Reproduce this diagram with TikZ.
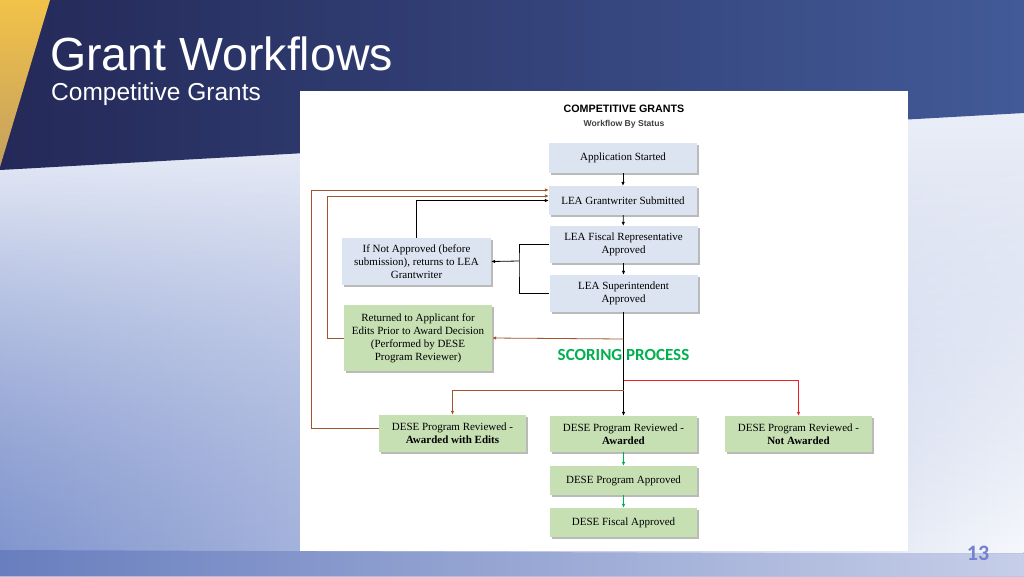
\documentclass[tikz,border=0pt]{standalone}
\usepackage{fontspec}
\setmainfont{Liberation Serif}
\newfontfamily\arialfont{Liberation Sans}
\newfontfamily\calibrifont{Carlito}
\usepackage{tikz}
\usetikzlibrary{arrows.meta,shadows,calc,fadings}

\definecolor{navyL}{RGB}{36,41,88}
\definecolor{navyR}{RGB}{66,90,152}
\definecolor{goldT}{RGB}{242,194,72}
\definecolor{goldB}{RGB}{196,160,96}
\definecolor{bgtop}{RGB}{246,248,252}
\definecolor{bgbot}{RGB}{184,196,228}
\definecolor{bgleft}{RGB}{130,150,206}
\definecolor{stripL}{RGB}{104,126,190}
\definecolor{stripR}{RGB}{198,206,232}
\definecolor{boxblue}{RGB}{220,227,241}
\definecolor{boxgreen}{RGB}{198,224,180}
\definecolor{flowbrown}{RGB}{160,86,42}
\definecolor{flowred}{RGB}{238,30,36}
\definecolor{flowgreen}{RGB}{0,176,80}
\definecolor{pagenum}{RGB}{118,128,208}

\tikzfading[name=fadeup, top color=transparent!100, bottom color=transparent!0]

\begin{document}
\begin{tikzpicture}[x=1pt,y=-1pt,>={Latex[length=4pt,width=3.6pt]},
    bluebox/.style={fill=boxblue, align=center, inner sep=2pt, minimum width=148pt,
        font=\fontsize{11}{13}\selectfont,
        drop shadow={shadow xshift=2pt, shadow yshift=-2pt, fill=black!45, opacity=0.6}},
    greenbox/.style={bluebox, fill=boxgreen},
    flow/.style={black, line width=0.8pt},
    brownflow/.style={flowbrown, line width=0.8pt},
    redflow/.style={flowred, line width=0.8pt},
    greenflow/.style={flowgreen, line width=0.8pt}]
    \useasboundingbox (0,0) rectangle (1024,576);

    % Background
    \shade[top color=bgtop, bottom color=bgbot] (0,0) rectangle (1024,576);
    \shade[left color=bgleft, right color=bgtop, path fading=fadeup, fit fading=true] (0,150) rectangle (1024,552);
    \shade[left color=stripL, right color=stripR] (0,550) -- (1024,554) -- (1024,576) -- (0,576) -- cycle;
    \shade[left color=navyL, right color=navyR] (0,0) -- (1024,0) -- (1024,113) -- (0,170) -- cycle;
    \shade[top color=goldT, bottom color=goldB] (0,0) -- (50,0) -- (0,167) -- cycle;

    % Title
    \node[anchor=base west, inner sep=0pt, text=white, font=\arialfont\fontsize{46.5}{46.5}\selectfont] (title) at (50,70) {Grant Workflows};
    \node[anchor=base west, inner sep=0pt, text=white, font=\arialfont\fontsize{24.5}{24.5}\selectfont] (subtitle) at (51,100) {Competitive Grants};
    \node[text=pagenum, font=\calibrifont\bfseries\fontsize{22}{22}\selectfont] (page) at (978,553) {13};

    % White panel
    \fill[white] (300,91) rectangle (908,551);
    \node[font=\arialfont\bfseries\fontsize{10.7}{10.7}\selectfont] (head) at (624,109) {COMPETITIVE GRANTS};
    \node[text=black!75, font=\arialfont\bfseries\fontsize{8.6}{8.6}\selectfont] (subhead) at (624,124) {Workflow By Status};

    % LEA steps
    \node[bluebox, minimum height=30pt] (started) at (623,158) {Application Started};
    \node[bluebox, minimum height=29pt] (submitted) at (623,200.5) {LEA Grantwriter Submitted};
    \node[bluebox, minimum height=37pt] (fiscal) at (623.5,244.5) {LEA Fiscal Representative\\Approved};
    \node[bluebox, minimum height=37pt] (super) at (623.5,293.5) {LEA Superintendent\\Approved};
    \node[bluebox, minimum width=149pt, minimum height=47pt] (notappr) at (416.5,261.5) {If Not Approved (before\\submission), returns to LEA\\Grantwriter};

    % DESE steps
    \node[greenbox, minimum height=66pt] (returned) at (418,338) {Returned to Applicant for\\Edits Prior to Award Decision\\(Performed by DESE\\Program Reviewer)};
    \node[greenbox, minimum width=147pt, minimum height=37pt] (edits) at (452.5,433.5) {DESE Program Reviewed -\\\textbf{Awarded with Edits}};
    \node[greenbox, minimum width=147pt, minimum height=36pt] (awarded) at (623.5,434) {DESE Program Reviewed -\\\textbf{Awarded}};
    \node[greenbox, minimum width=147pt, minimum height=36pt] (notawarded) at (798.5,434) {DESE Program Reviewed -\\\textbf{Not Awarded}};
    \node[greenbox, minimum width=147pt, minimum height=29pt] (progappr) at (623.5,480.5) {DESE Program Approved};
    \node[greenbox, minimum width=147pt, minimum height=29pt] (fiscappr) at (623.5,522.5) {DESE Fiscal Approved};

    \node[text=flowgreen, font=\calibrifont\bfseries\fontsize{17}{17}\selectfont] (scoring) at (623.5,355) {SCORING PROCESS};

    % Junctions
    \coordinate (fork) at (519,261);
    \coordinate (jret) at (623.5,339);
    \coordinate (jred) at (623.5,380);
    \coordinate (jedit) at (623.5,390);

    % LEA connectors
    \draw[flow, ->] (started) -- (submitted);
    \draw[flow, ->] (submitted) -- (fiscal);
    \draw[flow, ->] (fiscal) -- (super);
    \draw[flow] (fiscal.west) -| (fork) |- (super.west);
    \draw[flow, ->] (fork) -- (notappr.east);
    \draw[flow, ->] (notappr.north) |- (submitted.west);

    % Scoring connectors
    \draw[flow, ->] (super.south) -- (awarded.north);
    \draw[brownflow, ->] (jret) -- (returned.east);
    \draw[redflow, ->] (jred) -| (notawarded.north);
    \draw[brownflow, ->] (jedit) -| (edits.north);
    \draw[brownflow, ->] (returned.west) -- ++(-16,0) |- ([yshift=4.5pt]submitted.west);
    \draw[brownflow, ->] ([yshift=5.5pt]edits.west) -- ++(-67,0) |- ([yshift=10.5pt]submitted.west);
    \draw[greenflow, ->] (awarded) -- (progappr);
    \draw[greenflow, ->] (progappr) -- (fiscappr);
\end{tikzpicture}
\end{document}
